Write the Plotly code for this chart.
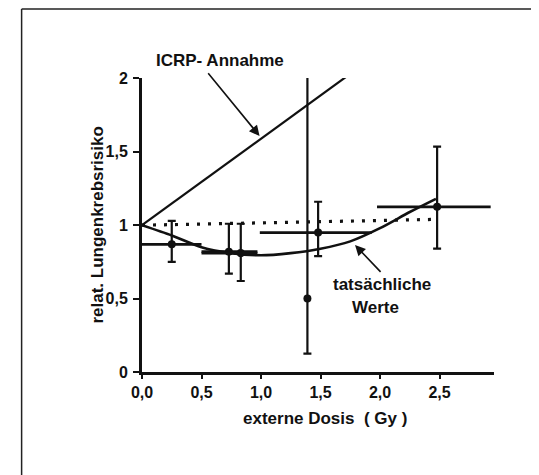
import plotly.graph_objects as go

# ---- data ----
# ICRP assumption (linear)
icrp_x = [0.0, 1.756]
icrp_y = [1.0, 2.035]

# dotted reference line
dot_x = [0.0, 2.48]
dot_y = [1.0, 1.04]

# fitted curve "tatsächliche Werte"
curve_x = [0.0, 0.25, 0.5, 0.75, 1.0, 1.25, 1.5, 1.75, 2.0, 2.25, 2.47]
curve_y = [1.0, 0.93, 0.85, 0.81, 0.795, 0.81, 0.84, 0.89, 0.98, 1.09, 1.18]

# data points with ranges
pt_x = [0.25, 0.73, 0.83, 1.39, 1.48, 2.48]
pt_y = [0.87, 0.82, 0.81, 0.50, 0.95, 1.125]
pt_ylo = [0.75, 0.67, 0.62, 0.125, 0.79, 0.84]
pt_yhi = [1.03, 1.01, 1.01, 2.02, 1.16, 1.535]
# dose intervals (horizontal bars); None = no bar
pt_xlo = [0.0, 0.5, 0.5, None, 0.99, 1.975]
pt_xhi = [0.5, 0.97, 0.97, None, 1.93, 2.93]

y_ticks = [0, 0.5, 1, 1.5, 2]
y_ticktext = ["0", "0,5", "1", "1,5", "2"]
x_ticks = [0, 0.5, 1.0, 1.5, 2.0, 2.5]
x_ticktext = ["0,0", "0,5", "1,0", "1,5", "2,0", "2,5"]

FONT = "Liberation Sans"
INK = "#111111"

fig = go.Figure()

fig.add_trace(go.Scatter(x=icrp_x, y=icrp_y, mode="lines",
                         line=dict(color=INK, width=2.2), showlegend=False))
fig.add_trace(go.Scatter(x=dot_x, y=dot_y, mode="lines",
                         line=dict(color=INK, width=3.2, dash="3px,8px"), showlegend=False))
fig.add_trace(go.Scatter(x=curve_x, y=curve_y, mode="lines",
                         line=dict(color=INK, width=2.6, shape="spline", smoothing=0.8),
                         showlegend=False))

# vertical ranges
fig.add_trace(go.Scatter(
    x=pt_x, y=pt_y, mode="markers",
    marker=dict(color=INK, size=8),
    error_y=dict(type="data", symmetric=False,
                 array=[h - y for h, y in zip(pt_yhi, pt_y)],
                 arrayminus=[y - l for l, y in zip(pt_ylo, pt_y)],
                 color=INK, thickness=2.2, width=4),
    showlegend=False))

# horizontal dose intervals
hx, hy, hp, hm = [], [], [], []
for x, y, lo, hi in zip(pt_x, pt_y, pt_xlo, pt_xhi):
    if lo is None:
        continue
    hx.append(x); hy.append(y); hp.append(hi - x); hm.append(x - lo)
fig.add_trace(go.Scatter(
    x=hx, y=hy, mode="markers", marker=dict(size=1, color="rgba(0,0,0,0)"),
    error_x=dict(type="data", symmetric=False, array=hp, arrayminus=hm,
                 color=INK, thickness=2.8, width=0),
    showlegend=False))

ann_font = dict(family=FONT, size=17, color=INK, weight="bold")
annotations = [
    dict(x=0.223, y=1.059, xref="paper", yref="paper", text="ICRP- Annahme", showarrow=False,
         font=ann_font, xanchor="center", yanchor="middle"),
    dict(x=0.988, y=1.608, ax=0.546, ay=2.046, xref="x", yref="y", axref="x", ayref="y",
         text="", showarrow=True, arrowhead=2, arrowsize=1.3, arrowwidth=1.6, arrowcolor=INK),
    dict(x=2.017, y=0.593, xref="x", yref="y", text="tatsächliche", showarrow=False,
         font=ann_font, xanchor="center", yanchor="middle"),
    dict(x=1.961, y=0.441, xref="x", yref="y", text="Werte", showarrow=False,
         font=ann_font, xanchor="center", yanchor="middle"),
    dict(x=1.79, y=0.865, ax=2.017, ay=0.672, xref="x", yref="y", axref="x", ayref="y",
         text="", showarrow=True, arrowhead=2, arrowsize=1.3, arrowwidth=1.6, arrowcolor=INK),
    dict(x=0.52, y=-0.157, xref="paper", yref="paper", text="externe Dosis  ( Gy )",
         showarrow=False, font=ann_font, xanchor="center", yanchor="middle"),
    dict(x=-0.125, y=0.498, xref="paper", yref="paper", text="relat. Lungenkrebsrisiko",
         showarrow=False, font=ann_font, textangle=-90, xanchor="center", yanchor="middle"),
]

frame_line = dict(color="#222222", width=1.5)
# the page adds an 8px body margin, so the plot area is placed 8px up/left
fig.update_layout(
    width=539, height=475,
    margin=dict(l=134, r=53, t=70, b=111, pad=0),
    paper_bgcolor="white", plot_bgcolor="white",
    annotations=annotations,
    shapes=[
        dict(type="line", xref="paper", yref="paper",
             x0=-0.342, x1=-0.342, y0=-0.5, y1=1.2347, line=frame_line, layer="below"),
        dict(type="line", xref="paper", yref="paper",
             x0=-0.342, x1=1.3, y0=1.2347, y1=1.2347, line=frame_line, layer="below"),
    ],
)
fig.update_xaxes(range=[0, 2.958], showgrid=False, zeroline=False,
                 showline=True, linecolor=INK, linewidth=3,
                 ticks="outside", ticklen=4, tickwidth=2, tickcolor=INK,
                 tickvals=x_ticks, ticktext=x_ticktext, ticklabelstandoff=0,
                 tickfont=dict(family=FONT, size=16, color=INK, weight="bold"))
fig.update_yaxes(range=[0, 2.003], showgrid=False, zeroline=False,
                 showline=True, linecolor=INK, linewidth=3,
                 ticks="outside", ticklen=6, tickwidth=2, tickcolor=INK,
                 tickvals=y_ticks, ticktext=y_ticktext, ticklabelstandoff=2,
                 tickfont=dict(family=FONT, size=16, color=INK, weight="bold"))

fig.write_html("out.html")
